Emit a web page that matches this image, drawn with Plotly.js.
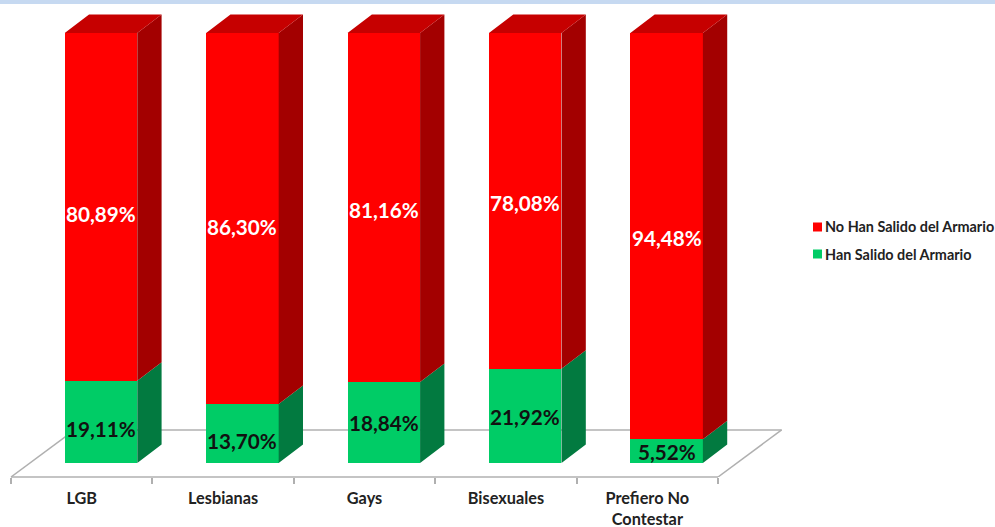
<!DOCTYPE html>
<html><head><meta charset="utf-8">
<script src="https://cdn.plot.ly/plotly-3.0.1.min.js"></script>
<style>html,body{margin:0;padding:0;background:#fff}</style></head>
<body><div id="chart" style="width:995px;height:527px"></div>
<script>
const categories = ["LGB","Lesbianas","Gays","Bisexuales","Prefiero No<br>Contestar"];
const han = [19.11,13.70,18.84,21.92,5.52];
const noHan = [80.89,86.30,81.16,78.08,94.48];
const hanName = "Han Salido del Armario";
const noHanName = "No Han Salido del Armario";
const redLabelShift = [-7,-8,-3,-2,-2];
const greenLabelShift = [-7,-7,-1,-1,-1];

const font = "Lato, 'Open Sans', sans-serif";
const idx = categories.map((_,i)=>i);
const barW = 0.513, barOff = -0.12, dX = 0.172, dY = 4.3;
const fmt = v => v.toFixed(2).replace('.',',')+'%';

function poly(pts){ return pts.concat([pts[0],[null,null]]); }
function faceTrace(polys,color){
  const pts = polys.flatMap(poly);
  return {type:'scatter',mode:'lines',x:pts.map(p=>p[0]),y:pts.map(p=>p[1]),fill:'toself',
    fillcolor:color,line:{width:0,color:color},showlegend:false,hoverinfo:'skip'};
}
const left = i=>i+barOff, right = i=>i+barOff+barW;
const greenSide = idx.map(i=>[[right(i),0],[right(i)+dX,dY],[right(i)+dX,han[i]+dY],[right(i),han[i]]]);
const redSide = idx.map(i=>[[right(i),han[i]],[right(i)+dX,han[i]+dY],[right(i)+dX,han[i]+noHan[i]+dY],[right(i),han[i]+noHan[i]]]);
const redTop = idx.map(i=>{const t=han[i]+noHan[i];return [[left(i),t],[left(i)+dX,t+dY],[right(i)+dX,t+dY],[right(i),t]];});

const bar = (y,name,color)=>({type:'bar',x:idx,y:y,name:name,width:barW,offset:barOff,
  marker:{color:color,line:{width:0}},hoverinfo:'y+name',showlegend:false});
const data = [bar(han,hanName,'#00CC66'),bar(noHan,noHanName,'#FF0000'),
  faceTrace(greenSide,'#027A40'),faceTrace(redSide,'#A30000'),faceTrace(redTop,'#C60000')];

const labelFont = c=>({family:font,size:20.7,color:c,weight:700});
const annotations = idx.flatMap(i=>[
  {x:i+barOff+barW/2,y:han[i]/2,yshift:greenLabelShift[i],text:'<b>'+fmt(han[i])+'</b>',showarrow:false,font:labelFont('#111')},
  {x:i+barOff+barW/2,y:han[i]+noHan[i]/2,yshift:redLabelShift[i],text:'<b>'+fmt(noHan[i])+'</b>',showarrow:false,font:labelFont('#fff')}
]);
// Key, in page fractions of the plot area
const W = 785, H = 472;
const keyX = p => (p-5)/W, keyY = p => (477-p)/H;
const keyItems = [[noHanName,'#FF0000',227],[hanName,'#00CC66',254]];
keyItems.forEach(([name,color,py])=>annotations.push({xref:'paper',yref:'paper',x:keyX(823),y:keyY(py),
  xanchor:'left',yanchor:'middle',showarrow:false,text:'<b>'+name+'</b>',font:{family:font,size:14.4,color:'#222',weight:700}}));
const grey = {color:'#B0B0B0',width:1.5};
const layout = {
  width:995,height:527,paper_bgcolor:'#fff',plot_bgcolor:'#fff',
  margin:{l:5,r:205,t:5,b:50,pad:0,autoexpand:false},
  barmode:'stack',showlegend:false,
  xaxis:{type:'linear',range:[-0.5424,5.009],tickmode:'array',tickvals:idx,ticktext:categories,ticks:'',
    showgrid:false,zeroline:false,showline:false,ticklabelstandoff:10,
    tickfont:{family:font,size:16.3,color:'#222',weight:700},
    minor:{tickmode:'array',tickvals:[-0.5,0.5,1.5,2.5,3.5,4.5],ticks:'outside',ticklen:6,tickwidth:1.5,tickcolor:'#B0B0B0',showgrid:false}},
  yaxis:{type:'linear',range:[-3.256,106.5],visible:false,showgrid:false,zeroline:false},
  shapes:[
    {type:'rect',xref:'paper',yref:'paper',x0:-0.01,x1:1.3,y0:keyY(4),y1:1.02,fillcolor:'#C6D9F1',line:{width:0},layer:'below'},
    {type:'line',xref:'x',yref:'paper',x0:-0.5,x1:4.5,y0:0,y1:0,line:grey,layer:'below'},
    {type:'line',xref:'x',yref:'y',x0:-0.5,x1:-0.05,y0:-3.256,y1:7.7,line:grey,layer:'below'},
    {type:'line',xref:'x',yref:'y',x0:-0.05,x1:4.95,y0:7.7,y1:7.7,line:grey,layer:'below'},
    {type:'line',xref:'x',yref:'y',x0:4.5,x1:4.95,y0:-3.256,y1:7.7,line:grey,layer:'below'},
    ...keyItems.map(([name,color,py])=>({type:'rect',xref:'paper',yref:'paper',x0:keyX(813),x1:keyX(822),y0:keyY(py+4.5),y1:keyY(py-4.5),fillcolor:color,line:{width:0}}))
  ],
  annotations:annotations
};
Plotly.newPlot('chart',data,layout,{displayModeBar:false,responsive:false});
</script></body></html>
